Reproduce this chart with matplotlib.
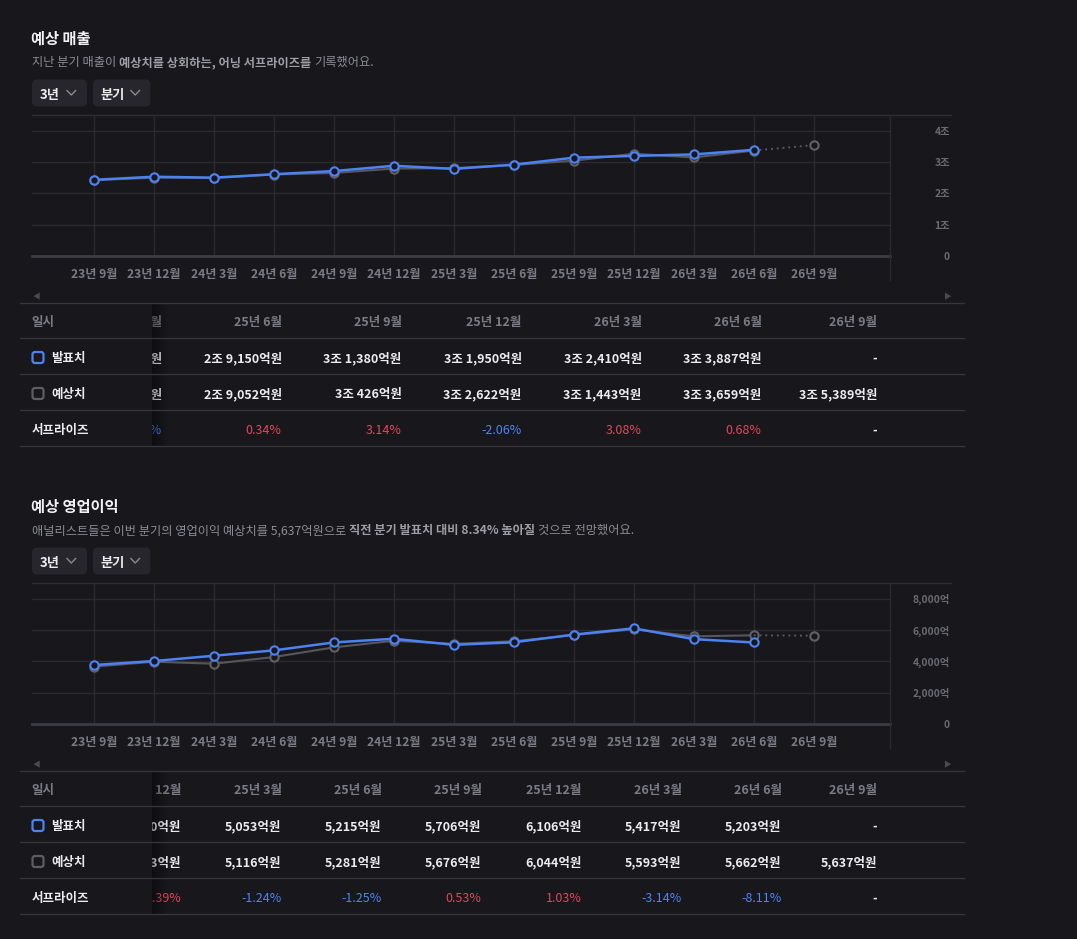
import numpy as np
import matplotlib
matplotlib.use('Agg')
import matplotlib.pyplot as plt
from matplotlib.lines import Line2D
from matplotlib.patches import Rectangle, FancyBboxPatch
from matplotlib.transforms import Affine2D

plt.rcParams['font.family'] = ['Noto Sans CJK KR', 'DejaVu Sans']

# ---------------- data ----------------
quarters = ['23년 9월', '23년 12월', '24년 3월', '24년 6월', '24년 9월', '24년 12월',
            '25년 3월', '25년 6월', '25년 9월', '25년 12월', '26년 3월', '26년 6월', '26년 9월']

# 예상 매출 (억원)
rev_actual = [24300, 25300, 25000, 26100, 27100, 28800, 27800, 29150, 31380, 31950, 32410, 33887, np.nan]
rev_est = [24200, 25000, 24900, 26000, 26500, 27900, 28060, 29052, 30426, 32622, 31443, 33659, 35389]
rev_surprise = [None, None, None, None, None, None, -0.93, 0.34, 3.14, -2.06, 3.08, 0.68, None]
rev_yticks = [0, 10000, 20000, 30000, 40000]
rev_ylabels = ['0', '1조', '2조', '3조', '4조']

# 예상 영업이익 (억원)
op_actual = [3765, 4019, 4356, 4698, 5206, 5440, 5053, 5215, 5706, 6106, 5417, 5203, np.nan]
op_est = [3657, 3975, 3848, 4273, 4889, 5313, 5116, 5281, 5676, 6044, 5593, 5662, 5637]
op_surprise = [None, None, None, None, None, 2.39, -1.24, -1.25, 0.53, 1.03, -3.14, -8.11, None]
op_yticks = [0, 2000, 4000, 6000, 8000]
op_ylabels = ['0', '2,000억', '4,000억', '6,000억', '8,000억']

# ---------------- style ----------------
W, H = 1077, 939
BG = '#17171c'
GRID = '#2a2a31'
BLUE = '#4c82f2'
GRAY = '#56565d'
WHITE = '#ececef'
TICK = '#7b7b84'
RED = '#e2475b'
NEG = '#4f85f2'
DY = 2.3  # vertical correction for CJK glyph centering

fig = plt.figure(figsize=(W / 100, H / 100), dpi=100, facecolor=BG)
PX = Affine2D().scale(1 / W, -1 / H).translate(0, 1) + fig.transFigure
renderer = fig.canvas.get_renderer()


def ftext(x, y, s, **kw):
    kw.setdefault('va', 'center')
    return fig.text(x, y + DY, s, transform=PX, **kw)


def fline(xs, ys, **kw):
    fig.add_artist(Line2D(xs, ys, transform=PX, **kw))


def frect(x, y, w, h, **kw):
    fig.add_artist(Rectangle((x, y), w, h, transform=PX, **kw))


def rich(x, y, parts, size):
    cx = x
    for s, weight, color in parts:
        t = ftext(cx, y, s, fontsize=size, fontweight=weight, color=color, ha='left')
        bb = t.get_window_extent(renderer=renderer)
        cx += bb.width + size * 100 / 72 * 0.27


def fmt_rev(v):
    v = int(round(v))
    jo, eok = divmod(v, 10000)
    if jo > 0:
        return f'{jo}조 {eok:,}억원'
    return f'{eok:,}억원'


def fmt_op(v):
    return f'{int(round(v)):,}억원'


def header(off, title, parts):
    ftext(31, 36 + off, title, fontsize=11, fontweight='bold', color='#f2f2f4', ha='left')
    rich(31.5, 60.5 + off, parts, 8.8)
    for (x0, w, label, chev) in [(32, 55, '3년', 71.3), (93, 57.5, '분기', 135.2)]:
        fig.add_artist(FancyBboxPatch((x0, 79.5 + off), w, 27, boxstyle='round,pad=0,rounding_size=5',
                                      transform=PX, fc='#26262c', ec='none'))
        ftext(x0 + 7.5, 93 + off, label, fontsize=9.5, fontweight='bold', color=WHITE, ha='left')
        fline([chev - 4.3, chev, chev + 4.3], [90.5 + off, 95 + off, 90.5 + off], color='#8a8a92', lw=1)


def chart(off, actual, est, ymax, yticks, ylabels):
    left, right, top, bottom = 32, 890, 115 + off, 256 + off
    ax = fig.add_axes([left / W, 1 - bottom / H, (right - left) / W, (bottom - top) / H])
    ax.set_facecolor(BG)
    x = np.arange(len(quarters))
    for s in ax.spines.values():
        s.set_visible(False)
    ax.set_xlim(-1.03, 13.27)
    ax.set_ylim(0, ymax)
    ax.set_xticks(x)
    ax.set_xticklabels(quarters)
    ax.set_yticks(yticks)
    ax.set_yticklabels(ylabels)
    ax.yaxis.tick_right()
    ax.tick_params(axis='x', length=0, pad=8.8, labelsize=8.7, labelcolor=TICK)
    ax.tick_params(axis='y', length=0, pad=43.2, labelsize=7.4, labelcolor='#6a6a72')
    for lbl in ax.get_xticklabels():
        lbl.set_fontweight('bold')
    for lbl in ax.get_yticklabels():
        lbl.set_fontweight('bold')
        lbl.set_ha('right')
    ax.grid(True, color=GRID, lw=1)
    ax.set_axisbelow(True)
    ax.axhline(0, color='#3b3b43', lw=2, clip_on=False, zorder=1.5)
    est = np.asarray(est, dtype=float)
    actual = np.asarray(actual, dtype=float)
    mk = dict(marker='o', ms=6, mfc=BG, mew=1.5)
    ax.plot(x[:-1], est[:-1], color=GRAY, lw=1.5, mec='#606067', zorder=3, **mk)
    ax.plot(x[-2:], est[-2:], color='#606067', lw=1.3, ls=(0, (1, 2.2)), zorder=3)
    ax.plot(x[-1:], est[-1:], color=GRAY, lw=0, mec='#606067', zorder=3, **mk)
    ax.plot(x, actual, color=BLUE, lw=1.8, mec=BLUE, zorder=4, **mk)
    fline([32, 951], [top, top], color='#2e2e35', lw=1)
    fline([890, 890], [top, 280 + off], color=GRID, lw=1)


def table(off, first_idx, col_right, actual, est, surprise, fmt):
    lines = [303 + off, 338 + off, 374 + off, 410 + off, 446 + off]
    centers = [(lines[i] + lines[i + 1]) / 2 for i in range(4)]
    idxs = list(range(first_idx, len(quarters)))
    for j, qi in enumerate(idxs):
        xr = col_right[j]
        ftext(xr, centers[0], quarters[qi], fontsize=9, fontweight='bold', color=TICK, ha='right', zorder=3)
        a = actual[qi]
        ftext(xr, centers[1], '-' if np.isnan(a) else fmt(a), fontsize=9, fontweight='bold',
              color=WHITE, ha='right', zorder=3)
        ftext(xr, centers[2], fmt(est[qi]), fontsize=9, fontweight='bold', color=WHITE, ha='right', zorder=3)
        s = surprise[qi]
        if s is None:
            ftext(xr, centers[3], '-', fontsize=9, fontweight='bold', color=WHITE, ha='right', zorder=3)
        else:
            ftext(xr, centers[3], f'{s:.2f}%', fontsize=9, color=RED if s > 0 else NEG, ha='right', zorder=3)
    # sticky first column
    frect(20, lines[0] + 1, 132, lines[-1] - lines[0] - 1, fc=BG, ec='none', zorder=4)
    for k in range(10):
        frect(152 + k * 1.6, lines[0] + 1, 1.6, lines[-1] - lines[0] - 1, fc='black',
              alpha=0.35 * (1 - k / 10), ec='none', zorder=4)
    ftext(31.5, centers[0], '일시', fontsize=9, fontweight='bold', color=TICK, ha='left', zorder=5)
    for cy, label, ec in [(centers[1], '발표치', BLUE), (centers[2], '예상치', '#5d5d64')]:
        fig.add_artist(FancyBboxPatch((32.5, cy - 5.5 + 1.5), 11, 11, boxstyle='round,pad=0,rounding_size=2.5',
                                      transform=PX, fc='none', ec=ec, lw=1.6, zorder=5))
        ftext(51.5, cy, label, fontsize=9, fontweight='bold', color=WHITE, ha='left', zorder=5)
    ftext(31.5, centers[3], '서프라이즈', fontsize=9, fontweight='bold', color=WHITE, ha='left', zorder=5)
    for ly in lines:
        fline([20, 964], [ly, ly], color='#35353c', lw=1, zorder=6)
    ftext(36.5, 295 + off, '◀', fontsize=5.5, color='#4a4a52', ha='center', zorder=6)
    ftext(947, 295 + off, '▶', fontsize=5.5, color='#4a4a52', ha='center', zorder=6)


# ---------------- section 1: 예상 매출 ----------------
header(0, '예상 매출', [('지난 분기 매출이', 'normal', '#8c8c94'),
                       ('예상치를 상회하는, 어닝 서프라이즈를', 'bold', '#9d9da5'),
                       ('기록했어요.', 'normal', '#8c8c94')])
chart(0, rev_actual, rev_est, 45000, rev_yticks, rev_ylabels)
table(0, 6, [161.7 + 120 * i for i in range(6)] + [877.3], rev_actual, rev_est, rev_surprise, fmt_rev)

# ---------------- section 2: 예상 영업이익 ----------------
OFF = 468
header(OFF, '예상 영업이익', [('애널리스트들은 이번 분기의 영업이익 예상치를 5,637억원으로', 'normal', '#8c8c94'),
                            ('직전 분기 발표치 대비 8.34% 높아질', 'bold', '#9d9da5'),
                            ('것으로 전망했어요.', 'normal', '#8c8c94')])
chart(OFF, op_actual, op_est, 9000, op_yticks, op_ylabels)
table(OFF, 5, [181.5 + 100 * i for i in range(7)] + [877.3], op_actual, op_est, op_surprise, fmt_op)

fig.savefig('out.png', dpi=100, facecolor=BG)
